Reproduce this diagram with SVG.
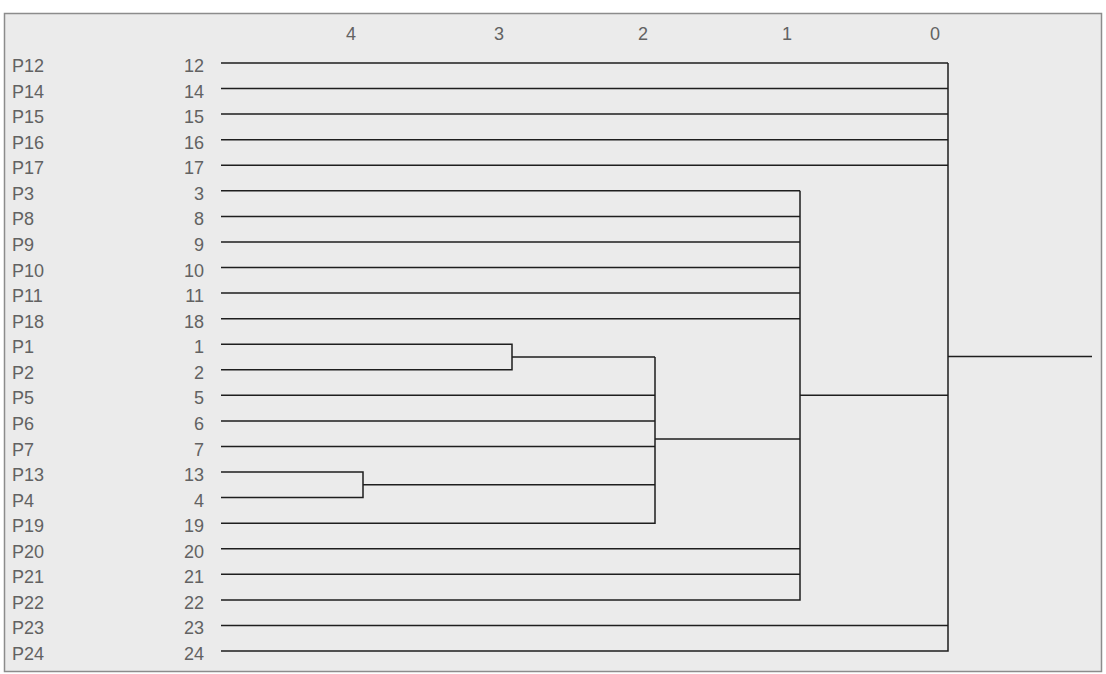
<svg xmlns="http://www.w3.org/2000/svg" width="1106" height="674" viewBox="0 0 1106 674">
<style>
text{font-family:"Liberation Sans",Arial,sans-serif;font-size:18px;fill:#626262}
.num{text-anchor:end}
.ax{text-anchor:middle}
.c{stroke:#1e1e1e;stroke-width:1.5;fill:none}
</style>
<rect x="0" y="0" width="1106" height="674" fill="#ffffff"/>
<rect x="4.5" y="13.5" width="1097" height="658" fill="#ebebeb" stroke="#8c8c8c" stroke-width="1.5"/>
<g id="axis">
<text class="ax" x="351" y="39.5">4</text>
<text class="ax" x="499" y="39.5">3</text>
<text class="ax" x="643" y="39.5">2</text>
<text class="ax" x="787" y="39.5">1</text>
<text class="ax" x="935" y="39.5">0</text>
</g>
<g id="leaves">
<g id="n12"><text x="12" y="72">P12</text><text class="num" x="204" y="72">12</text></g>
<g id="n14"><text x="12" y="97.6">P14</text><text class="num" x="204" y="97.6">14</text></g>
<g id="n15"><text x="12" y="123.1">P15</text><text class="num" x="204" y="123.1">15</text></g>
<g id="n16"><text x="12" y="148.7">P16</text><text class="num" x="204" y="148.7">16</text></g>
<g id="n17"><text x="12" y="174.3">P17</text><text class="num" x="204" y="174.3">17</text></g>
<g id="n3"><text x="12" y="199.8">P3</text><text class="num" x="204" y="199.8">3</text></g>
<g id="n8"><text x="12" y="225.4">P8</text><text class="num" x="204" y="225.4">8</text></g>
<g id="n9"><text x="12" y="251">P9</text><text class="num" x="204" y="251">9</text></g>
<g id="n10"><text x="12" y="276.5">P10</text><text class="num" x="204" y="276.5">10</text></g>
<g id="n11"><text x="12" y="302.1">P11</text><text class="num" x="204" y="302.1">11</text></g>
<g id="n18"><text x="12" y="327.7">P18</text><text class="num" x="204" y="327.7">18</text></g>
<g id="n1"><text x="12" y="353.2">P1</text><text class="num" x="204" y="353.2">1</text></g>
<g id="n2"><text x="12" y="378.8">P2</text><text class="num" x="204" y="378.8">2</text></g>
<g id="n5"><text x="12" y="404.3">P5</text><text class="num" x="204" y="404.3">5</text></g>
<g id="n6"><text x="12" y="429.9">P6</text><text class="num" x="204" y="429.9">6</text></g>
<g id="n7"><text x="12" y="455.5">P7</text><text class="num" x="204" y="455.5">7</text></g>
<g id="n13"><text x="12" y="481">P13</text><text class="num" x="204" y="481">13</text></g>
<g id="n4"><text x="12" y="506.6">P4</text><text class="num" x="204" y="506.6">4</text></g>
<g id="n19"><text x="12" y="532.2">P19</text><text class="num" x="204" y="532.2">19</text></g>
<g id="n20"><text x="12" y="557.7">P20</text><text class="num" x="204" y="557.7">20</text></g>
<g id="n21"><text x="12" y="583.3">P21</text><text class="num" x="204" y="583.3">21</text></g>
<g id="n22"><text x="12" y="608.9">P22</text><text class="num" x="204" y="608.9">22</text></g>
<g id="n23"><text x="12" y="634.4">P23</text><text class="num" x="204" y="634.4">23</text></g>
<g id="n24"><text x="12" y="660">P24</text><text class="num" x="204" y="660">24</text></g>
</g>
<g id="connectors" class="c">
<path d="M221 63H948M221 88.6H948M221 114.1H948M221 139.7H948M221 165.3H948"/>
<path d="M221 190.8H800M221 216.4H800M221 242H800M221 267.5H800M221 293.1H800M221 318.7H800"/>
<path d="M221 344.2H512V369.8H221M512 357H655"/>
<path d="M221 395.3H655M221 420.9H655M221 446.5H655"/>
<path d="M221 472H363V497.6H221M363 484.8H655"/>
<path d="M221 523.2H655V357M655 439H800"/>
<path d="M221 548.7H800M221 574.3H800M221 599.9H800V190.8M800 395.3H948"/>
<path d="M221 625.4H948M221 651H948V63M948 356.5H1092"/>
</g>
</svg>
